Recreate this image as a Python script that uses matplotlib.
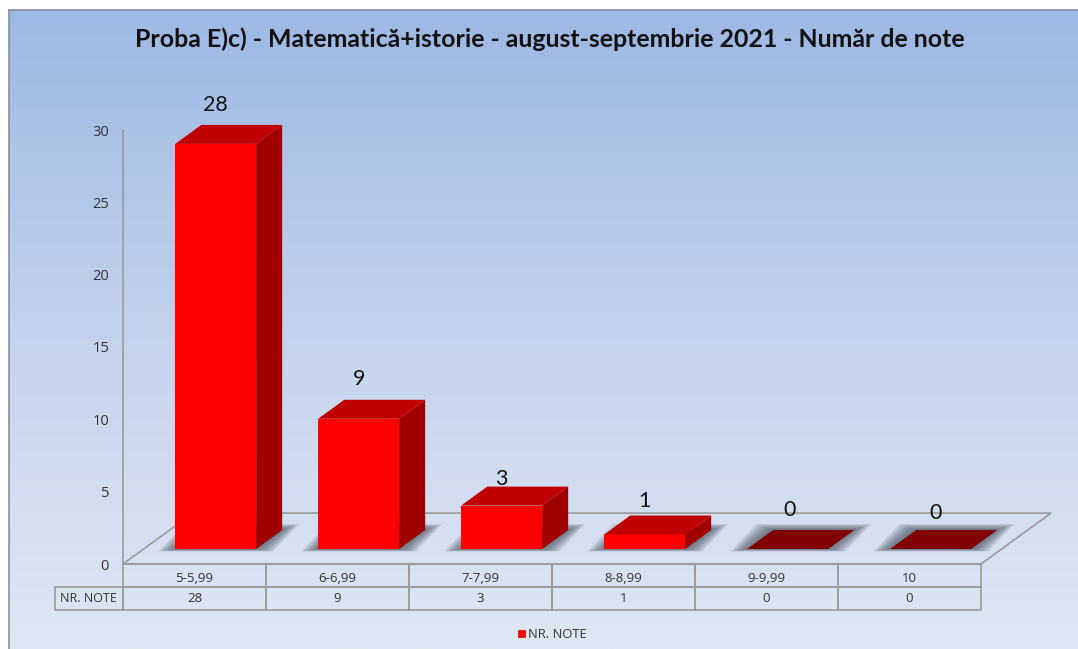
import numpy as np
import matplotlib
matplotlib.use("Agg")
import matplotlib.pyplot as plt
from matplotlib.patches import Polygon

categories = ["5-5,99", "6-6,99", "7-7,99", "8-8,99", "9-9,99", "10"]
values = [28, 9, 3, 1, 0, 0]
y_ticks = [0, 5, 10, 15, 20, 25, 30]
series_name = "NR. NOTE"
title = "Proba E)c) - Matematică+istorie - august-septembrie 2021 - Număr de note"
# value label placement relative to the bar top centre, in axis units
label_gaps = [1.4, 1.45, 0.55, 1.0, 1.35, 1.15]
label_shifts = [0, 0, 0, 0, 0.01, 0.035]

W, H = 1078, 649
fig = plt.figure(figsize=(W / 100, H / 100), dpi=100)
plt.rcParams["font.family"] = ["Open Sans", "DejaVu Sans"]

# gradient background, white strip left and top
bg = fig.add_axes([9 / W, 0, 1 - 9 / W, 1 - 10 / H])
grad = np.linspace(0, 1, 256).reshape(-1, 1)
cmap = matplotlib.colors.LinearSegmentedColormap.from_list("bg", ["#9CB8E4", "#C3D2EC", "#E0E7F4"])
bg.imshow(grad, aspect="auto", cmap=cmap, extent=[0, 1, 0, 1], origin="upper")
bg.axis("off")
fig.add_artist(plt.Line2D([9 / W, 9 / W], [0, 1 - 10 / H], color="#8a8f99", lw=1.2))
fig.add_artist(plt.Line2D([9 / W, 1], [1 - 10 / H, 1 - 10 / H], color="#8a8f99", lw=1.2))

# main axes, 0..6 categories, 0..30 values
x0, x1, y0, y1 = 123, 981, 564, 130
ax = fig.add_axes([x0 / W, 1 - y0 / H, (x1 - x0) / W, (y0 - y1) / H])
ax.set_xlim(0, 6)
ax.set_ylim(0, 30)
ax.patch.set_alpha(0)
for s in ["top", "right", "bottom"]:
    ax.spines[s].set_visible(False)
ax.spines["left"].set_color("#9a9a9a")
ax.spines["left"].set_linewidth(1.2)
ax.set_xticks([])
ax.set_yticks(y_ticks)
ax.tick_params(axis="y", length=0, pad=10, labelsize=10.5, labelcolor="#333333")

# floor
fdx, fdy = 0.49, 3.52
floor = [(0, 0), (6, 0), (6 + fdx, fdy), (fdx, fdy)]
ax.add_patch(Polygon(floor, closed=True, fill=False, ec="#9a9a9a", lw=1.2, clip_on=False))

# bars
bw = 0.566
base = 1.04
dx, dy = 0.182, 1.31
px_x = 1 / 143
px_y = 1 / 14.47
for i, v in enumerate(values):
    left = i + 0.365
    right = left + bw
    top = base + v
    # soft shadow on the floor
    for g in range(17, 0, -2):
        gx, up, dn = g * px_x, 0.35 * g * px_y, 0.15 * g * px_y
        ax.add_patch(Polygon([(left - gx, base - dn), (right + gx, base - dn),
                              (right + dx + gx, base + dy + up), (left + dx - gx, base + dy + up)],
                             closed=True, fc="#4a5260", ec="none", alpha=0.13, clip_on=False, zorder=2))
    if v > 0:
        ax.bar(left + bw / 2, v, bw, bottom=base, color="#FF0000", zorder=3)
        ax.add_patch(Polygon([(right, base), (right + dx, base + dy), (right + dx, top + dy), (right, top)],
                             closed=True, fc="#A00000", ec="none", zorder=3, clip_on=False))
        ax.add_patch(Polygon([(left, top), (right, top), (right + dx, top + dy), (left + dx, top + dy)],
                             closed=True, fc="#C00000", ec="none", zorder=3, clip_on=False))
    else:
        ax.add_patch(Polygon([(left, top), (right, top), (right + dx, top + dy), (left + dx, top + dy)],
                             closed=True, fc="#800000", ec="none", zorder=3, clip_on=False))
    ax.text(left + bw / 2 + label_shifts[i], top + dy + label_gaps[i], str(v), ha="center", va="center",
            fontsize=15.5, family=["Lato", "DejaVu Sans"], color="#111111", zorder=4, clip_on=False)

# data table below the axis
tbl = ax.table(cellText=[[str(v) for v in values]], rowLabels=[series_name], colLabels=[""] * 6,
               cellLoc="center", rowLoc="center", bbox=[0, -0.106, 1, 0.106])
tbl.auto_set_font_size(False)
tbl.set_fontsize(9.5)
for key, cell in tbl.get_celld().items():
    cell.set_edgecolor("#9a9a9a")
    cell.set_linewidth(1.2)
    cell.set_facecolor("none")
    cell.get_text().set_color("#333333")
tbl[(1, -1)].get_text().set_fontsize(9)
for i, c in enumerate(categories):
    ax.text(i + 0.5, -1.03, c, ha="center", va="center", fontsize=9.5, color="#333333", clip_on=False)

fig.text(550 / W, 1 - 39 / H, title, ha="center", va="center", fontsize=17.9,
         fontweight="bold", family=["Lato", "DejaVu Sans"], color="#111111")

# legend
fig.add_artist(plt.Rectangle((518 / W, 1 - 637 / H), 7 / W, 7 / H, transform=fig.transFigure, fc="#FF0000", ec="#C00000", lw=0.5))
fig.text(528 / W, 1 - 634 / H, series_name, ha="left", va="center", fontsize=9.4, color="#333333")

fig.savefig("out.png", dpi=100)
